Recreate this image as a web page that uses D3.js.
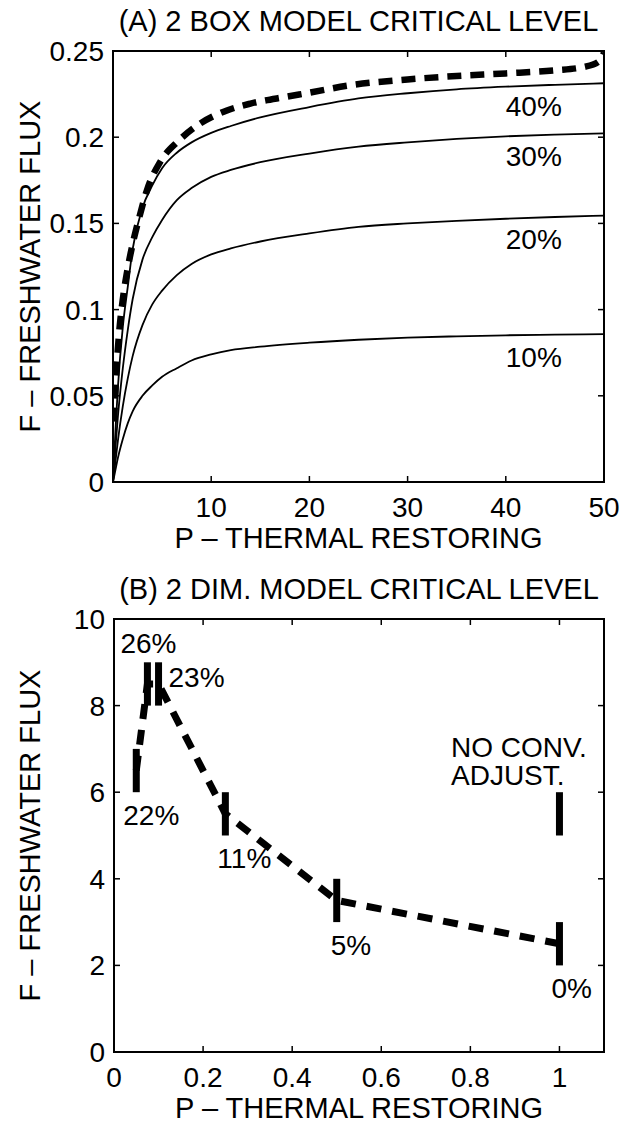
<!DOCTYPE html>
<html><head><meta charset="utf-8">
<script src="https://cdn.jsdelivr.net/npm/d3@7"></script>
<style>
html,body{margin:0;padding:0;background:#fff;}
svg text{font-family:"Liberation Sans",Arial,Helvetica,sans-serif;fill:#000;}
</style></head>
<body>
<svg id="chart" width="631" height="1126"></svg>
<script>
// ---------- Panel A data ----------
const titleA = "(A) 2 BOX MODEL CRITICAL LEVEL";
const titleB = "(B) 2 DIM. MODEL CRITICAL LEVEL";
const xLabel = "P \u2013 THERMAL RESTORING";
const yLabel = "F \u2013 FRESHWATER FLUX";

const pA = [0, 0.25, 0.5, 1, 1.5, 2, 3, 4, 5, 6.5, 8, 10, 12, 15, 20, 25, 30, 35, 40, 45, 50];
const f40 = [0, 0.030, 0.055, 0.090, 0.113, 0.135, 0.159, 0.172, 0.182, 0.191, 0.197, 0.2025, 0.2065, 0.2115, 0.2175, 0.2225, 0.2255, 0.2278, 0.2293, 0.2304, 0.2313];
const f30 = [0, 0.020, 0.038, 0.066, 0.088, 0.106, 0.129, 0.142, 0.152, 0.1635, 0.1705, 0.177, 0.181, 0.1855, 0.1905, 0.1945, 0.197, 0.199, 0.2005, 0.2015, 0.2022];
const f20 = [0, 0.012, 0.024, 0.044, 0.060, 0.073, 0.091, 0.103, 0.111, 0.120, 0.1265, 0.132, 0.1355, 0.1395, 0.1442, 0.148, 0.150, 0.1515, 0.1527, 0.1537, 0.1545];
const f10 = [0, 0.007, 0.014, 0.025, 0.034, 0.041, 0.050, 0.056, 0.061, 0.066, 0.0705, 0.074, 0.0765, 0.0785, 0.0808, 0.0825, 0.0837, 0.0845, 0.0851, 0.0855, 0.0858];
const curveLabels = ["40%", "30%", "20%", "10%"];

const critP = [0.1, 0.3, 0.6, 1, 1.5, 2, 2.7, 3.5, 4.8, 6.7, 8.9, 11.6, 14, 17.7, 20, 24, 30, 35, 40, 45, 48, 49.5, 50];
const critF = [0.035, 0.060, 0.085, 0.106, 0.124, 0.138, 0.154, 0.170, 0.1856, 0.198, 0.208, 0.2155, 0.2195, 0.2235, 0.2258, 0.2300, 0.2335, 0.2355, 0.2370, 0.2388, 0.2408, 0.2440, 0.2490];

const xTicksA = [10, 20, 30, 40, 50];
const yTicksA = [0, 0.05, 0.1, 0.15, 0.2, 0.25];
const yTickLabelsA = ["0", "0.05", "0.1", "0.15", "0.2", "0.25"];

// ---------- Panel B data ----------
const dimP = [0.05, 0.075, 0.1, 0.25, 0.5, 1.0];
const dimF = [6.5, 8.5, 8.5, 5.5, 3.5, 2.5];
const barLow = [6, 8, 8, 5, 3, 2];
const barHigh = [7, 9, 9, 6, 4, 3];
const dimLabels = ["22%", "26%", "23%", "11%", "5%", "0%"];
const noConvP = 1.0, noConvLow = 5, noConvHigh = 6;
const noConvText = ["NO CONV.", "ADJUST."];

const xTicksB = [0, 0.2, 0.4, 0.6, 0.8, 1];
const xTickLabelsB = ["0", "0.2", "0.4", "0.6", "0.8", "1"];
const yTicksB = [0, 2, 4, 6, 8, 10];

// ---------- drawing ----------
const svg = d3.select("#chart");
const TICKFS = 28, LABFS = 29;

function frame(g, x, y, xt, yt, xtl, ytl) {
  const [x0, x1] = x.range(), [y0, y1] = y.range();
  const tl = 6;
  xt.forEach(v => {
    g.append("line").attr("x1", x(v)).attr("x2", x(v)).attr("y1", y0).attr("y2", y0 - tl).attr("stroke", "#000").attr("stroke-width", 1.5);
    g.append("line").attr("x1", x(v)).attr("x2", x(v)).attr("y1", y1).attr("y2", y1 + tl).attr("stroke", "#000").attr("stroke-width", 1.5);
  });
  yt.forEach(v => {
    g.append("line").attr("y1", y(v)).attr("y2", y(v)).attr("x1", x0).attr("x2", x0 + tl).attr("stroke", "#000").attr("stroke-width", 1.5);
    g.append("line").attr("y1", y(v)).attr("y2", y(v)).attr("x1", x1).attr("x2", x1 - tl).attr("stroke", "#000").attr("stroke-width", 1.5);
  });
  g.append("rect").attr("x", x0).attr("y", y1).attr("width", x1 - x0).attr("height", y0 - y1)
    .attr("fill", "none").attr("stroke", "#000").attr("stroke-width", 2);
  xt.forEach((v, i) => {
    g.append("text").attr("x", x(v)).attr("y", y0 + 35).attr("text-anchor", "middle")
      .attr("font-size", TICKFS).text(xtl[i]);
  });
  yt.forEach((v, i) => {
    g.append("text").attr("x", x0 - 9).attr("y", y(v)).attr("dy", "0.36em").attr("text-anchor", "end")
      .attr("font-size", TICKFS).text(ytl[i]);
  });
  const cx = (x0 + x1) / 2, cy = (y0 + y1) / 2;
  g.append("text").attr("x", cx).attr("y", y0 + 66).attr("text-anchor", "middle").attr("font-size", LABFS).text(xLabel);
  g.append("text").attr("transform", `translate(40,${cy}) rotate(-90)`).attr("text-anchor", "middle").attr("font-size", LABFS).text(yLabel);
}

// Panel A
const xA = d3.scaleLinear().domain([0, 50]).range([113, 604]);
const yA = d3.scaleLinear().domain([0, 0.25]).range([482, 51]);
const gA = svg.append("g");
svg.append("defs").append("clipPath").attr("id", "clipA").append("rect")
  .attr("x", 113).attr("y", 51).attr("width", 491).attr("height", 431);
gA.append("text").attr("x", (113 + 604) / 2).attr("y", 51 - 20).attr("text-anchor", "middle").attr("font-size", LABFS).text(titleA);

const lineA = d3.line().x(d => xA(d[0])).y(d => yA(d[1])).curve(d3.curveMonotoneX);
const seriesA = [f40, f30, f20, f10];
const gc = gA.append("g").attr("clip-path", "url(#clipA)");
seriesA.forEach(s => {
  gc.append("path").datum(pA.map((p, i) => [p, s[i]])).attr("d", lineA)
    .attr("fill", "none").attr("stroke", "#000").attr("stroke-width", 1.8);
});
gc.append("path").datum(critP.map((p, i) => [p, critF[i]])).attr("d", lineA)
  .attr("fill", "none").attr("stroke", "#000").attr("stroke-width", 6.5).attr("stroke-dasharray", "14,9");
seriesA.forEach((s, i) => {
  gA.append("text").attr("x", xA(40)).attr("y", yA(s[s.length - 1]) + 33)
    .attr("font-size", TICKFS).text(curveLabels[i]);
});
frame(gA, xA, yA, xTicksA, yTicksA, xTicksA.map(String), yTickLabelsA);

// Panel B
const xB = d3.scaleLinear().domain([0, 1.1]).range([114, 604]);
const yB = d3.scaleLinear().domain([0, 10]).range([1052, 619]);
const gB = svg.append("g");
gB.append("text").attr("x", (114 + 604) / 2).attr("y", 619 - 20).attr("text-anchor", "middle").attr("font-size", LABFS).text(titleB);

const lineB = d3.line().x(d => xB(d[0])).y(d => yB(d[1]));
gB.append("path").datum(dimP.map((p, i) => [p, dimF[i]])).attr("d", lineB)
  .attr("fill", "none").attr("stroke", "#000").attr("stroke-width", 7).attr("stroke-dasharray", "15,11");
dimP.forEach((p, i) => {
  gB.append("line").attr("x1", xB(p)).attr("x2", xB(p)).attr("y1", yB(barLow[i])).attr("y2", yB(barHigh[i]))
    .attr("stroke", "#000").attr("stroke-width", 7);
});
gB.append("line").attr("x1", xB(noConvP)).attr("x2", xB(noConvP)).attr("y1", yB(noConvLow)).attr("y2", yB(noConvHigh))
  .attr("stroke", "#000").attr("stroke-width", 7);

const labOff = [
  {dx: -13, ref: "low", dy: 33},
  {dx: -27, ref: "high", dy: -9},
  {dx: 10, ref: "high", dy: 25},
  {dx: -8, ref: "low", dy: 32},
  {dx: -6, ref: "low", dy: 33},
  {dx: -8, ref: "low", dy: 33}
];
dimLabels.forEach((t, i) => {
  const o = labOff[i];
  const yy = o.ref === "low" ? yB(barLow[i]) : yB(barHigh[i]);
  gB.append("text").attr("x", xB(dimP[i]) + o.dx).attr("y", yy + o.dy).attr("font-size", TICKFS).text(t);
});
noConvText.forEach((t, i) => {
  gB.append("text").attr("x", 451).attr("y", yB(noConvHigh) - 35 + i * 28).attr("font-size", TICKFS).text(t);
});
frame(gB, xB, yB, xTicksB, yTicksB, xTickLabelsB, yTicksB.map(String));
</script>
</body></html>
